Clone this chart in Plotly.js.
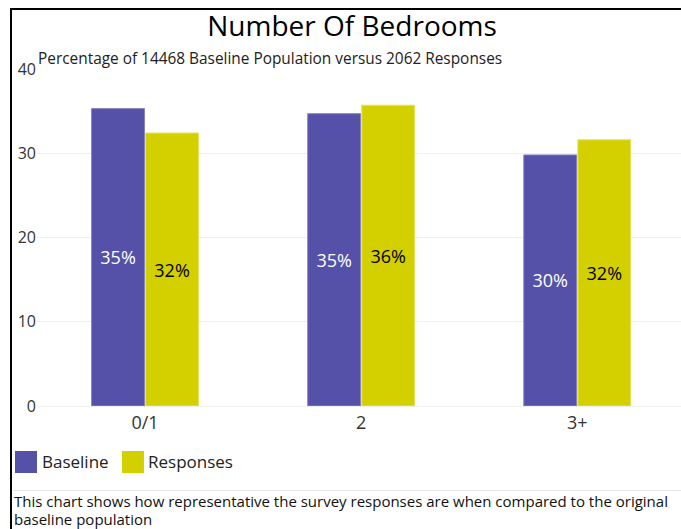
<!DOCTYPE html>
<html>
<head>
<meta charset="utf-8">
<script src="https://cdn.plot.ly/plotly-3.0.1.min.js"></script>
<style>
  html, body { margin: 0; padding: 0; background: #fff; width: 681px; height: 529px; overflow: hidden; }
  #frame { position: absolute; left: 10px; top: 8px; width: 720px; height: 560px; border-left: 2px solid #000; border-top: 2px solid #000; }
  #plot { position: absolute; left: 0; top: 0; width: 681px; height: 480px; }
  #rule { position: absolute; left: 13px; top: 490px; width: 680px; height: 1px; background: #e6e6e6; }
  #caption { position: absolute; left: 14px; top: 492px; width: 668px; font-family: "Open Sans", sans-serif; font-size: 15px; line-height: 18px; color: #111; }
</style>
</head>
<body>
<div id="frame"></div>
<div id="plot"></div>
<div id="rule"></div>
<div id="caption">This chart shows how representative the survey responses are when compared to the original baseline population</div>
<script>
const categories = ["0/1", "2", "3+"];
const seriesNames = ["Baseline", "Responses"];
const baselineValues = [35.3, 34.7, 29.8];
const responseValues = [32.4, 35.7, 31.6];
const baselineLabels = ["35%", "35%", "30%"];
const responseLabels = ["32%", "36%", "32%"];
const yTicks = [0, 10, 20, 30, 40];

const FONT = '"Open Sans", sans-serif';
const COLORS = ['#5551a8', '#d4d000'];

const traces = [
  {
    type: 'bar', name: seriesNames[0], x: categories, y: baselineValues,
    text: baselineLabels, textposition: 'inside', insidetextanchor: 'middle',
    textfont: { family: FONT, size: 18, color: '#ffffff' },
    marker: { color: COLORS[0], line: { color: '#8884c4', width: 1 } },
    hoverinfo: 'skip'
  },
  {
    type: 'bar', name: seriesNames[1], x: categories, y: responseValues,
    text: responseLabels, textposition: 'inside', insidetextanchor: 'middle',
    textfont: { family: FONT, size: 18, color: '#000000' },
    marker: { color: COLORS[1], line: { color: '#e6e35a', width: 1 } },
    hoverinfo: 'skip'
  }
];

// legend drawn with large square swatches (paper coordinates)
const legendSwatches = [
  { x0: -0.0342, x1: 0.0, tx: 0.0047 },
  { x0: 0.1320, x1: 0.1661, tx: 0.1690 }
];
const shapes = legendSwatches.map((s, i) => ({
  type: 'rect', xref: 'paper', yref: 'paper', x0: s.x0, x1: s.x1, y0: -0.1335, y1: -0.1988,
  fillcolor: COLORS[i], line: { width: 0 }
}));
const legendTexts = legendSwatches.map((s, i) => ({
  text: seriesNames[i], xref: 'paper', yref: 'paper', x: s.tx, y: -0.166, xanchor: 'left', yanchor: 'middle',
  showarrow: false, font: { family: FONT, size: 17, color: '#222' }
}));

const layout = {
  width: 681, height: 480,
  margin: { l: 37, r: 0, t: 69, b: 74 },
  paper_bgcolor: 'rgba(0,0,0,0)',
  plot_bgcolor: 'rgba(0,0,0,0)',
  font: { family: FONT, color: '#222' },
  title: { text: 'Number Of Bedrooms', font: { family: FONT, size: 28, color: '#000' }, x: 0.517, xanchor: 'center', y: 0.945, yanchor: 'middle', yref: 'container' },
  barmode: 'group', bargap: 0.5, bargroupgap: 0.02,
  showlegend: false,
  xaxis: { type: 'category', range: [-0.5, 2.48], showgrid: false, zeroline: false, showline: false, ticks: '', ticklabelstandoff: 4, tickfont: { family: FONT, size: 18, color: '#333' } },
  yaxis: { range: [0, 40], tickvals: yTicks, ticktext: yTicks.map(String), showgrid: true, gridcolor: '#efefef', zeroline: true, zerolinecolor: '#efefef', showline: false, ticks: '', tickfont: { family: FONT, size: 16, color: '#333' } },
  shapes: shapes,
  annotations: [
    { text: 'Percentage of 14468 Baseline Population versus 2062 Responses', xref: 'paper', yref: 'paper', x: -0.002, y: 1.03, xanchor: 'left', yanchor: 'middle', showarrow: false, font: { family: FONT, size: 15.4, color: '#222' } }
  ].concat(legendTexts)
};

Plotly.newPlot('plot', traces, layout, { displayModeBar: false, staticPlot: true });
</script>
</body>
</html>
